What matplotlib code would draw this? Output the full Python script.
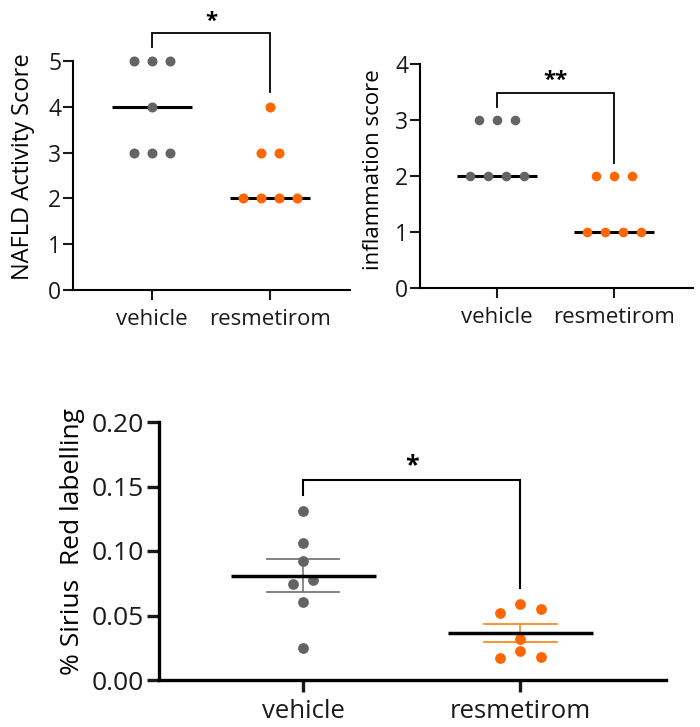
import numpy as np
import matplotlib
matplotlib.use("Agg")
import matplotlib.pyplot as plt

plt.rcParams['font.family'] = ['Open Sans', 'DejaVu Sans']

# ---------------- data ----------------
groups = ["vehicle", "resmetirom"]

nas_vehicle = [5, 5, 5, 4, 3, 3, 3]
nas_resmetirom = [4, 3, 3, 2, 2, 2, 2]

infl_vehicle = [3, 3, 3, 2, 2, 2, 2]
infl_resmetirom = [2, 2, 2, 1, 1, 1, 1]

sirius_vehicle = [0.131, 0.106, 0.0925, 0.0775, 0.0744, 0.0607, 0.0246]
sirius_resmetirom = [0.0589, 0.055, 0.052, 0.0318, 0.0227, 0.0178, 0.0168]

nas_ticks = [0, 1, 2, 3, 4, 5]
infl_ticks = [0, 1, 2, 3, 4]
sirius_ticks = [0.00, 0.05, 0.10, 0.15, 0.20]
sirius_ticklabels = ["0.00", "0.05", "0.10", "0.15", "0.20"]

sig_nas = "*"
sig_infl = "**"
sig_sirius = "*"

GRAY = "#646464"
ORANGE = "#ff6600"
ERR_GRAY = "#777777"
ERR_ORANGE = "#ff8a1e"


def swarm(values, spacing, thresh):
    """Group close values into rows and spread each row horizontally."""
    v = np.asarray(values, dtype=float)
    order = np.argsort(-v)
    rows, cur = [], []
    for i in order:
        if cur and (v[cur[0]] - v[i]) > thresh:
            rows.append(cur)
            cur = []
        cur.append(i)
    rows.append(cur)
    off = np.zeros(len(v))
    for r in rows:
        n = len(r)
        pos = (np.arange(n) - (n - 1) / 2) * spacing
        asc = sorted(r, key=lambda k: v[k])
        if n % 2 == 1 and n > 1:
            top = asc[-1]
            rest = asc[:-1]
            centre = n // 2
            p_other = [p for j, p in enumerate(pos) if j != centre]
            off[top] = pos[centre]
            for k, p in zip(rest, p_other):
                off[k] = p
        else:
            for k, p in zip(asc, pos):
                off[k] = p
    return off


def style_axes(ax, lw, ticklen, fs, pad_y, pad_x):
    for s in ["top", "right"]:
        ax.spines[s].set_visible(False)
    for s in ["left", "bottom"]:
        ax.spines[s].set_linewidth(lw)
    ax.tick_params(axis="both", width=lw, length=ticklen, labelsize=fs,
                   colors="#1a1a1a")
    ax.tick_params(axis="y", pad=pad_y)
    ax.tick_params(axis="x", pad=pad_x)
    ax.spines["left"].set_color("black")
    ax.spines["bottom"].set_color("black")


def bracket(ax, x0, x1, ytop, yl, yr, text, ty, fs, lw):
    ax.plot([x0, x0, x1, x1], [yl, ytop, ytop, yr], color="black", lw=lw,
            clip_on=False, solid_joinstyle="miter")
    ax.text((x0 + x1) / 2, ty, text, ha="center", va="center",
            fontsize=fs, fontweight="bold", clip_on=False)


fig = plt.figure(figsize=(7, 7.27), dpi=100)

# ---------------- panel 1 ----------------
ax1 = fig.add_axes([73 / 700, 1 - 290 / 727, 277 / 700, 229 / 727])
for gi, (vals, col) in enumerate([(nas_vehicle, GRAY), (nas_resmetirom, ORANGE)]):
    off = swarm(vals, 0.153, 0.1)
    ax1.scatter(gi + off, vals, s=52, color=col, zorder=3, linewidths=0,
                clip_on=False)
    med = np.median(vals)
    ax1.plot([gi - 0.34, gi + 0.34], [med, med], color="black", lw=2.2, zorder=2,
             solid_capstyle="butt")
ax1.set_xlim(-0.67, 1.68)
ax1.set_ylim(0, 5)
ax1.set_yticks(nas_ticks)
ax1.set_xticks([0, 1])
ax1.set_xticklabels(groups)
style_axes(ax1, 1.5, 7, 16, 1.5, 7)
ax1.tick_params(axis="y", labelsize=16.5)
ax1.set_ylabel("NAFLD Activity Score", fontsize=17)
ax1.yaxis.set_label_coords(-0.137, 0.539)
bracket(ax1, 0, 1, 5.61, 5.31, 4.32, sig_nas, 5.86, 16, 1.3)

# ---------------- panel 2 ----------------
ax2 = fig.add_axes([420 / 700, 1 - 288 / 727, 273 / 700, 224 / 727])
for gi, (vals, col) in enumerate([(infl_vehicle, GRAY), (infl_resmetirom, ORANGE)]):
    off = swarm(vals, 0.154, 0.1)
    ax2.scatter(gi + off, vals, s=48, color=col, zorder=3, linewidths=0,
                clip_on=False)
    med = np.median(vals)
    ax2.plot([gi - 0.34, gi + 0.34], [med, med], color="black", lw=2.2, zorder=2,
             solid_capstyle="butt")
ax2.set_xlim(-0.66, 1.675)
ax2.set_ylim(0, 4)
ax2.set_yticks(infl_ticks)
ax2.set_xticks([0, 1])
ax2.set_xticklabels(groups)
style_axes(ax2, 1.5, 7, 16, 1.5, 7)
ax2.tick_params(axis="y", labelsize=16.5)
ax2.set_ylabel("inflammation score", fontsize=16)
ax2.yaxis.set_label_coords(-0.132, 0.529)
bracket(ax2, 0, 1, 3.48, 3.23, 2.23, sig_infl, 3.71, 16, 1.3)

# ---------------- panel 3 ----------------
ax3 = fig.add_axes([159 / 700, 1 - 680 / 727, 507 / 700, 258 / 727])
for gi, (vals, col, ecol) in enumerate([(sirius_vehicle, GRAY, ERR_GRAY),
                                        (sirius_resmetirom, ORANGE, ERR_ORANGE)]):
    off = swarm(vals, 0.094, 0.0082)
    ax3.scatter(gi + off, vals, s=60, color=col, zorder=3, linewidths=0,
                clip_on=False)
    arr = np.asarray(vals)
    m = arr.mean()
    sem = arr.std(ddof=1) / np.sqrt(len(arr))
    ax3.errorbar([gi], [m], yerr=[sem], fmt="none", ecolor=ecol, elinewidth=1.2,
                 capsize=0, zorder=2)
    for yy in (m - sem, m + sem):
        ax3.plot([gi - 0.166, gi + 0.166], [yy, yy], color=ecol, lw=1.3, zorder=2)
    ax3.plot([gi - 0.333, gi + 0.333], [m, m], color="black", lw=2.5, zorder=4,
             solid_capstyle="butt")
ax3.set_xlim(-0.664, 1.67)
ax3.set_ylim(0, 0.2)
ax3.set_yticks(sirius_ticks)
ax3.set_yticklabels(sirius_ticklabels)
ax3.set_xticks([0, 1])
ax3.set_xticklabels(groups)
style_axes(ax3, 2.4, 8.5, 19, 2.5, 5.5)
ax3.tick_params(axis="x", labelsize=18.5)
ax3.set_ylabel("% Sirius  Red labelling", fontsize=19)
ax3.yaxis.set_label_coords(-0.146, 0.537)
bracket(ax3, 0, 1, 0.155, 0.1434, 0.0713, sig_sirius, 0.1662, 18, 1.5)

fig.savefig("out.png", dpi=100)
